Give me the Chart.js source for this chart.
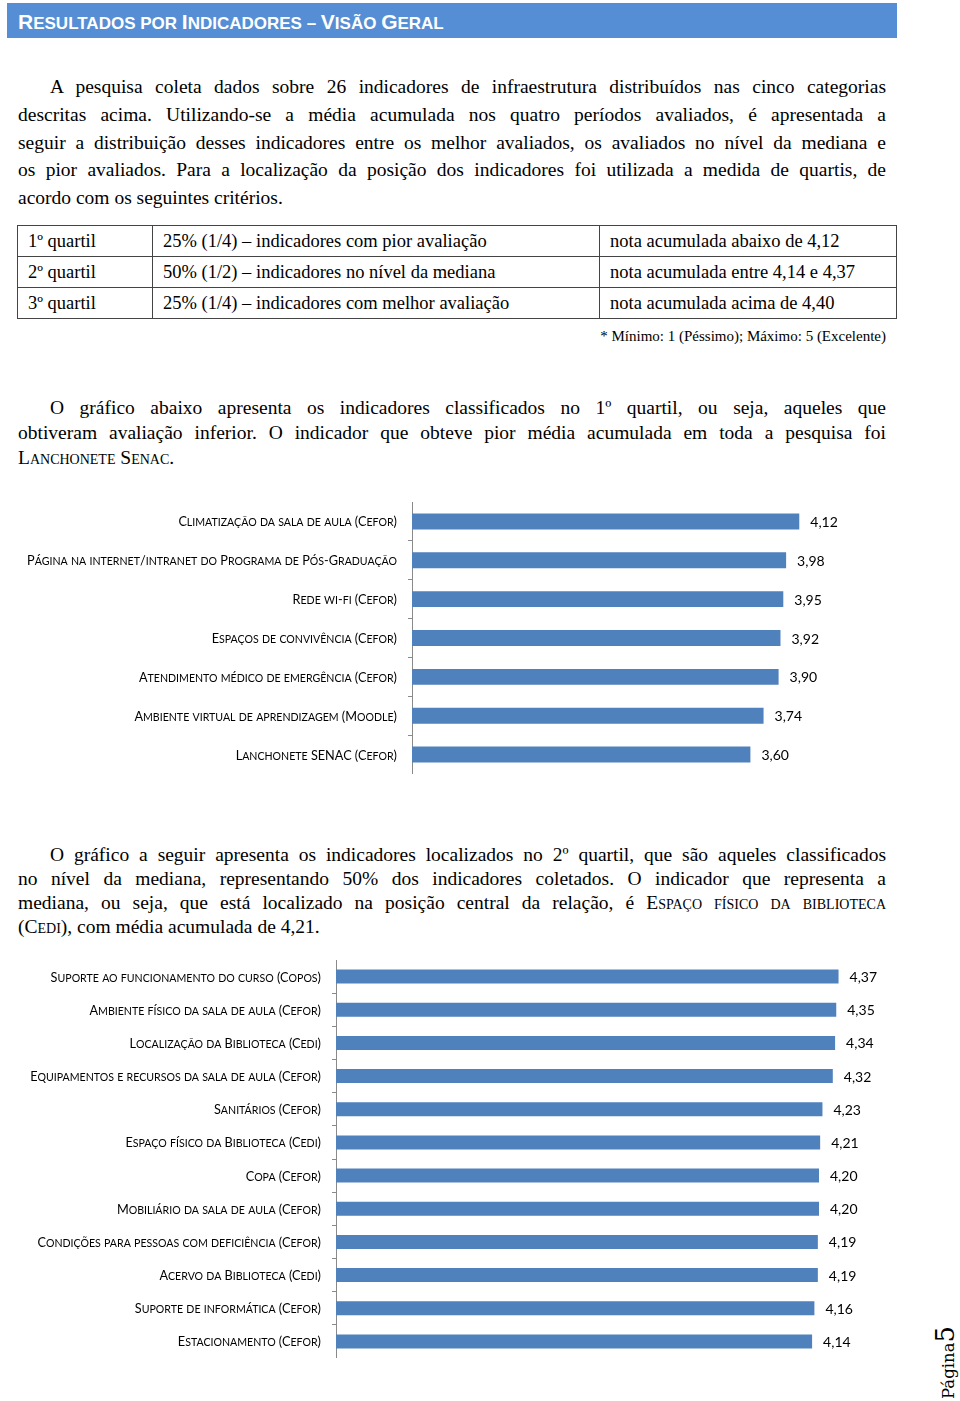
<!DOCTYPE html>
<html lang="pt">
<head>
<meta charset="utf-8">
<script src="https://cdn.jsdelivr.net/npm/chart.js@4.4.0/dist/chart.umd.min.js"></script>
<style>
  body { margin: 0; background: #fff; }
  #page { position: relative; width: 960px; height: 1401px; overflow: hidden; font-family: "Liberation Serif", "Times New Roman", serif; color: #000; }
  .hdr { position: absolute; left: 7px; top: 3px; width: 890px; height: 35px; background: #558ED5;
         color: #fff; font: bold 21px "Liberation Sans", Arial, sans-serif; line-height: 37px; padding-left: 11px; box-sizing: border-box; }
  .hdr i { font-style: normal; font-size: 17px; }
  .par { position: absolute; left: 18px; width: 868px; font-size: 19.5px; }
  .par span { display: block; text-align: justify; text-align-last: justify; white-space: nowrap; }
  .par span.first { padding-left: 32px; }
  .par span.last { text-align-last: left; }
  .par span.sc { display: inline; font-variant: small-caps; }
  table { position: absolute; left: 17px; top: 225px; width: 880px; border-collapse: collapse; font-size: 18.5px; }
  td { border: 1px solid #444; height: 30px; padding: 0 0 0 10px; line-height: 30px; }
  .note { position: absolute; right: 74px; top: 328px; font-size: 15px; }
  canvas { position: absolute; left: 0; }
  .pg { position: absolute; left: 932px; top: 1399px; transform-origin: left top; transform: rotate(-90deg);
        white-space: nowrap; line-height: 26px; font-family: "DejaVu Serif", serif; font-size: 16.5px; }
  .pg b { font-weight: normal; font-size: 26px; }
</style>
</head>
<body>
<div id="page">
  <div class="hdr">R<i>ESULTADOS POR </i>I<i>NDICADORES – </i>V<i>ISÃO </i>G<i>ERAL</i></div>

  <div class="par" style="top:73px; line-height:27.75px;">
    <span class="first">A pesquisa coleta dados sobre 26 indicadores de infraestrutura distribuídos nas cinco categorias</span>
    <span>descritas acima. Utilizando-se a média acumulada nos quatro períodos avaliados, é apresentada a</span>
    <span>seguir a distribuição desses indicadores entre os melhor avaliados, os avaliados no nível da mediana e</span>
    <span>os pior avaliados. Para a localização da posição dos indicadores foi utilizada a medida de quartis, de</span>
    <span class="last">acordo com os seguintes critérios.</span>
  </div>

  <table>
    <tr><td style="width:124px">1º quartil</td><td style="width:436px">25% (1/4) – indicadores com pior avaliação</td><td>nota acumulada abaixo de 4,12</td></tr>
    <tr><td>2º quartil</td><td>50% (1/2) – indicadores no nível da mediana</td><td>nota acumulada entre 4,14 e 4,37</td></tr>
    <tr><td>3º quartil</td><td>25% (1/4) – indicadores com melhor avaliação</td><td>nota acumulada acima de 4,40</td></tr>
  </table>
  <div class="note">* Mínimo: 1 (Péssimo); Máximo: 5 (Excelente)</div>

  <div class="par" style="top:395px; line-height:25px;">
    <span class="first">O gráfico abaixo apresenta os indicadores classificados no 1º quartil, ou seja, aqueles que</span>
    <span>obtiveram avaliação inferior. O indicador que obteve pior média acumulada em toda a pesquisa foi</span>
    <span class="last"><span class="sc">Lanchonete Senac</span>.</span>
  </div>

  <canvas id="chart1" width="882" height="272" style="top:502px; width:882px; height:272px;"></canvas>

  <div class="par" style="top:843px; line-height:24px;">
    <span class="first">O gráfico a seguir apresenta os indicadores localizados no 2º quartil, que são aqueles classificados</span>
    <span>no nível da mediana, representando 50% dos indicadores coletados. O indicador que representa a</span>
    <span>mediana, ou seja, que está localizado na posição central da relação, é <span class="sc">Espaço físico da biblioteca</span></span>
    <span class="last">(<span class="sc">Cedi</span>), com média acumulada de 4,21.</span>
  </div>

  <canvas id="chart2" width="911" height="398" style="top:960px; width:911px; height:398px;"></canvas>

  <div class="pg">Página<b>5</b></div>
</div>

<script>
// 1º quartil
const labels1 = [
  'Climatização da sala de aula (Cefor)',
  'Página na internet/intranet do Programa de Pós-Graduação',
  'Rede wi-fi (Cefor)',
  'Espaços de convivência (Cefor)',
  'Atendimento médico de emergência (Cefor)',
  'Ambiente virtual de aprendizagem (Moodle)',
  'Lanchonete SENAC (Cefor)'
];
const values1 = [4.12, 3.98, 3.95, 3.92, 3.90, 3.74, 3.60];

// 2º quartil
const labels2 = [
  'Suporte ao funcionamento do curso (Copos)',
  'Ambiente físico da sala de aula (Cefor)',
  'Localização da Biblioteca (Cedi)',
  'Equipamentos e recursos da sala de aula (Cefor)',
  'Sanitários (Cefor)',
  'Espaço físico da Biblioteca (Cedi)',
  'Copa (Cefor)',
  'Mobiliário da sala de aula (Cefor)',
  'Condições para pessoas com deficiência (Cefor)',
  'Acervo da Biblioteca (Cedi)',
  'Suporte de informática (Cefor)',
  'Estacionamento (Cefor)'
];
const values2 = [4.37, 4.35, 4.34, 4.32, 4.23, 4.21, 4.20, 4.20, 4.19, 4.19, 4.16, 4.14];

const axisMax = 5;
const FONTE = 'Lato, "Open Sans", sans-serif';
const TAM_GRANDE = 12.7;
const TAM_PEQ = 10.6;

// quebra o texto em pedaços maiúsculos/minúsculos para imitar versalete do Word
function pedacos(txt) {
  const out = [];
  for (const ch of txt) {
    const peq = ch !== ch.toUpperCase();
    const last = out[out.length - 1];
    if (last && last.peq === peq) last.t += ch.toUpperCase();
    else out.push({ t: ch.toUpperCase(), peq: peq });
  }
  return out;
}

// desenha os rótulos das categorias em versalete
const rotulosVersalete = {
  id: 'rotulosVersalete',
  afterDraw(chart) {
    const ctx = chart.ctx;
    const sc = chart.scales.y;
    const x0 = sc.right - 4 - 11;
    ctx.save();
    ctx.fillStyle = '#000';
    ctx.textBaseline = 'alphabetic';
    ctx.textAlign = 'left';
    chart.data.labels.forEach((lab, i) => {
      const y = sc.getPixelForTick(i) + 5;
      const parts = pedacos(lab);
      let w = 0;
      parts.forEach(p => {
        ctx.font = (p.peq ? TAM_PEQ : TAM_GRANDE) + 'px ' + FONTE;
        p.w = ctx.measureText(p.t).width;
        w += p.w;
      });
      let x = x0 - w;
      parts.forEach(p => {
        ctx.font = (p.peq ? TAM_PEQ : TAM_GRANDE) + 'px ' + FONTE;
        ctx.fillText(p.t, x, y);
        x += p.w;
      });
    });
    ctx.restore();
  }
};

// escreve o valor ao lado de cada barra (formato 4,12)
const valorNaBarra = {
  id: 'valorNaBarra',
  afterDatasetsDraw(chart) {
    const ctx = chart.ctx;
    const meta = chart.getDatasetMeta(0);
    ctx.save();
    ctx.font = '14px ' + FONTE;
    ctx.fillStyle = '#000';
    ctx.textAlign = 'left';
    ctx.textBaseline = 'middle';
    meta.data.forEach((bar, i) => {
      const v = chart.data.datasets[0].data[i];
      ctx.fillText(v.toFixed(2).replace('.', ','), bar.x + 11, bar.y + 1);
    });
    ctx.restore();
  }
};

function criaGrafico(id, labels, values, axisWidth, barPct) {
  const ctx = document.getElementById(id).getContext('2d');
  return new Chart(ctx, {
    type: 'bar',
    data: {
      labels: labels,
      datasets: [{
        data: values,
        backgroundColor: '#4F81BD',
        borderWidth: 0,
        categoryPercentage: 1,
        barPercentage: barPct
      }]
    },
    options: {
      indexAxis: 'y',
      responsive: false,
      animation: false,
      events: [],
      layout: { padding: 0 },
      plugins: {
        legend: { display: false },
        tooltip: { enabled: false }
      },
      scales: {
        x: { display: false, min: 0, max: axisMax },
        y: {
          afterFit(scale) {
            scale.width = axisWidth;
            scale.paddingTop = 0;
            scale.paddingBottom = 0;
          },
          grid: { drawOnChartArea: false, tickLength: 4, color: '#8a8a8a', offset: true },
          border: { display: true, color: '#8a8a8a', width: 1 },
          // os rótulos visíveis vêm do plugin de versalete
          ticks: { display: false }
        }
      }
    },
    plugins: [valorNaBarra, rotulosVersalete]
  });
}

criaGrafico('chart1', labels1, values1, 412, 0.41);
criaGrafico('chart2', labels2, values2, 336, 0.42);
</script>
</body>
</html>
